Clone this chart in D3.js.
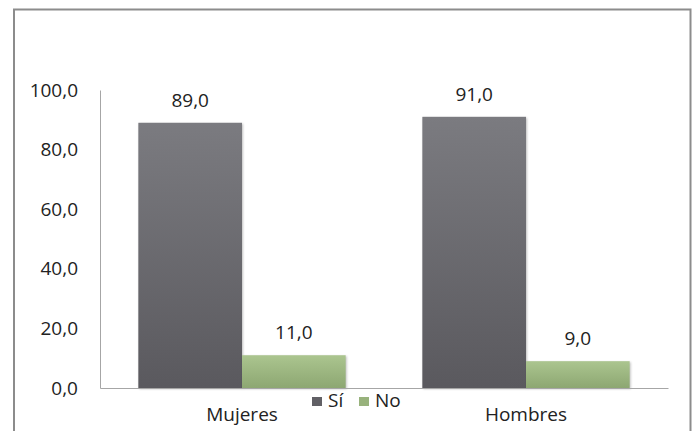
<!DOCTYPE html>
<html><head><meta charset="utf-8">
<script src="https://cdn.jsdelivr.net/npm/d3@7"></script>
<style>body{margin:0;background:#fff}svg{display:block}</style>
</head><body>
<script>
const categories = ["Mujeres", "Hombres"];
const seriesNames = ["Sí", "No"];
const siValues = [89.0, 91.0];
const noValues = [11.0, 9.0];
const yTicks = [0, 20, 40, 60, 80, 100];

(function(){
const W = 694, H = 431;
const svg = d3.select("body").append("svg").attr("width", W).attr("height", H);
const font = "'Open Sans', 'Liberation Sans', sans-serif";
const fs = 19;

const defs = svg.append("defs");
const g1 = defs.append("linearGradient").attr("id","gSi").attr("x1",0).attr("y1",0).attr("x2",0).attr("y2",1);
g1.append("stop").attr("offset","0%").attr("stop-color","#7b7b80");
g1.append("stop").attr("offset","100%").attr("stop-color","#5a595e");
const g2 = defs.append("linearGradient").attr("id","gNo").attr("x1",0).attr("y1",0).attr("x2",0).attr("y2",1);
g2.append("stop").attr("offset","0%").attr("stop-color","#abc58f");
g2.append("stop").attr("offset","100%").attr("stop-color","#8da772");
const colors = {"Sí":"url(#gSi)","No":"url(#gNo)"};
const legendColors = {"Sí":"#616065","No":"#98b27c"};

svg.append("rect").attr("x",14).attr("y",9.5).attr("width",676.5).attr("height",440)
  .attr("fill","#fff").attr("stroke","#8c8c8c").attr("stroke-width",2);

const mLeft = 100, mRight = 668, mTop = 90, mBottom = 388;
const x0 = d3.scaleBand().domain(categories).range([mLeft,mRight]).paddingInner(0.27).paddingOuter(0.135);
const x1 = d3.scaleBand().domain(seriesNames).range([0,x0.bandwidth()]);
const y = d3.scaleLinear().domain([0,100]).range([mBottom,mTop]);

const data = categories.map((c,i)=>({cat:c, vals:[{s:"Sí",v:siValues[i]},{s:"No",v:noValues[i]}]}));

const groups = svg.append("g").selectAll("g").data(data).join("g")
  .attr("transform",d=>`translate(${x0(d.cat)},0)`);
groups.selectAll("rect").data(d=>d.vals).join("rect")
  .attr("x",d=>x1(d.s)).attr("width",x1.bandwidth())
  .attr("y",d=>y(d.v)).attr("height",d=>y(0)-y(d.v))
  .attr("fill",d=>colors[d.s])
  .style("filter","drop-shadow(1px 1px 1px rgba(0,0,0,0.25))");
groups.selectAll("text").data(d=>d.vals).join("text")
  .attr("x",d=>x1(d.s)+x1.bandwidth()/2).attr("y",d=>y(d.v)-16)
  .attr("text-anchor","middle").attr("font-family",font).attr("font-size",fs).attr("fill","#222")
  .text(d=>d.v.toFixed(1).replace(".",","));

const yAxis = svg.append("g").attr("transform",`translate(${mLeft},0)`)
  .call(d3.axisLeft(y).tickValues(yTicks).tickSize(0).tickPadding(22).tickFormat(d=>d.toFixed(1).replace(".",",")));
yAxis.select(".domain").attr("stroke","#a6a6a6");
yAxis.selectAll("text").attr("font-family",font).attr("font-size",fs).attr("fill","#222");

const xAxis = svg.append("g").attr("transform",`translate(0,${mBottom})`)
  .call(d3.axisBottom(x0).tickSize(0).tickPadding(20));
xAxis.select(".domain").attr("stroke","#a6a6a6");
xAxis.selectAll("text").attr("font-family",font).attr("font-size",fs).attr("fill","#222");

const lg = svg.append("g");
const legX = [312, 359];
seriesNames.forEach((s,i)=>{
  lg.append("rect").attr("x",legX[i]).attr("y",397).attr("width",10).attr("height",9).attr("fill",legendColors[s]);
  lg.append("text").attr("x",legX[i]+16).attr("y",407).attr("font-family",font).attr("font-size",fs).attr("fill","#222").text(s);
});
})();
</script>
</body></html>
